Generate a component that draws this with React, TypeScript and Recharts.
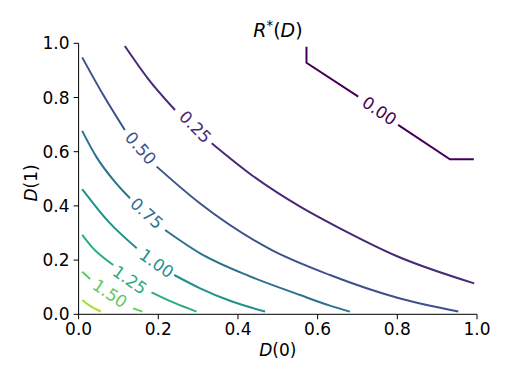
import React from 'react';
import { LineChart, Line, XAxis, YAxis, ReferenceDot } from 'recharts';

// contour paths, [D(0), D(1)]; a and b are the pieces either side of the inline label
const c000a = [[0.572, 0.987], [0.572, 0.928], [0.702, 0.803]];
const c000b = [[0.802, 0.699], [0.932, 0.572], [0.992, 0.572]];
const c025a = [[0.116, 0.99], [0.175, 0.868], [0.242, 0.754]];
const c025b = [[0.334, 0.631], [0.434, 0.514], [0.556, 0.397], [0.656, 0.317], [0.798, 0.215], [0.993, 0.114]];
const c050a = [[0.009, 0.948], [0.062, 0.809], [0.116, 0.68]];
const c050b = [[0.196, 0.545], [0.305, 0.409], [0.485, 0.237], [0.631, 0.145], [0.798, 0.062], [0.953, 0.01]];
const c075a = [[0.009, 0.677], [0.045, 0.58], [0.087, 0.496], [0.129, 0.428]];
const c075b = [[0.217, 0.311], [0.305, 0.225], [0.43, 0.14], [0.556, 0.071], [0.631, 0.032], [0.681, 0.01]];
const c100a = [[0.009, 0.462], [0.075, 0.342], [0.146, 0.244]];
const c100b = [[0.24, 0.145], [0.305, 0.096], [0.38, 0.05], [0.468, 0.01]];
const c125a = [[0.009, 0.293], [0.033, 0.249], [0.087, 0.182]];
const c125b = [[0.183, 0.081], [0.242, 0.041], [0.296, 0.01]];
const c150a = [[0.009, 0.157], [0.029, 0.13]];
const c150b = [[0.137, 0.022], [0.16, 0.01]];
const c175 = [[0.009, 0.053], [0.03, 0.03], [0.056, 0.01]];

const levelNames = ['0.00', '0.25', '0.50', '0.75', '1.00', '1.25', '1.50', '1.75'];
const levelColors = ['#440154', '#482878', '#3b528b', '#2c728e', '#21918c', '#28ae80', '#5ec962', '#aadc32'];
const levelPaths = [
  [c000a, c000b],
  [c025a, c025b],
  [c050a, c050b],
  [c075a, c075b],
  [c100a, c100b],
  [c125a, c125b],
  [c150a, c150b],
  [c175],
];

// inline label anchor points (data coords) and rotation in degrees
const labelX = [0.755, 0.293, 0.156, 0.171, 0.196, 0.129, 0.079];
const labelY = [0.751, 0.692, 0.613, 0.373, 0.188, 0.127, 0.077];
const labelAngle = [34, 45, 49, 42, 35, 35, 34];

const ticks = [0, 0.2, 0.4, 0.6, 0.8, 1.0];

const FONT = 'DejaVu Sans';

const toRows = (pts: number[][]) => pts.map(([x, y]) => ({ x, y }));

export default function App() {
  return (
    <div style={{ position: 'absolute', left: 0, top: 0, width: 512, height: 384, background: '#fff' }}>
      <LineChart width={512} height={384} margin={{ top: 43.3, right: 35, left: 18.6, bottom: 39.7 }}>
        <XAxis
          dataKey="x"
          type="number"
          domain={[0, 1]}
          ticks={ticks}
          tickFormatter={(v) => v.toFixed(1)}
          allowDataOverflow
          height={30}
          tickSize={5}
          tickMargin={4}
          stroke="#000"
          tick={{ fill: '#000', fontSize: 17, fontFamily: FONT }}
        />
        <XAxis xAxisId="top" orientation="top" type="number" domain={[0, 1]} height={0} tick={false} tickLine={false} stroke="#000" />
        <YAxis
          dataKey="y"
          type="number"
          domain={[0, 1]}
          ticks={ticks}
          tickFormatter={(v) => v.toFixed(1)}
          allowDataOverflow
          width={60}
          tickSize={5}
          tickMargin={4}
          stroke="#000"
          tick={{ fill: '#000', fontSize: 17, fontFamily: FONT }}
        />
        <YAxis yAxisId="right" orientation="right" type="number" domain={[0, 1]} width={0} tick={false} tickLine={false} stroke="#000" />
        {levelPaths.map((pieces, i) =>
          pieces.map((pts, j) => (
            <Line
              key={`${i}-${j}`}
              data={toRows(pts)}
              dataKey="y"
              type={i === 0 ? 'linear' : 'monotone'}
              stroke={levelColors[i]}
              strokeWidth={2}
              dot={false}
              activeDot={false}
              isAnimationActive={false}
              name={levelNames[i]}
            />
          ))
        )}
        {labelX.map((lx, i) => (
          <ReferenceDot
            key={`lbl-${i}`}
            x={lx}
            y={labelY[i]}
            r={0}
            shape={(p: any) => (
              <text
                x={p.cx}
                y={p.cy}
                fill={levelColors[i]}
                fontSize={16.7}
                fontFamily={FONT}
                textAnchor="middle"
                dominantBaseline="central"
                transform={`rotate(${labelAngle[i]}, ${p.cx}, ${p.cy})`}
              >
                {levelNames[i]}
              </text>
            )}
          />
        ))}
      </LineChart>
      <svg width={512} height={384} style={{ position: 'absolute', left: 0, top: 0, pointerEvents: 'none' }}>
        <text x={278} y={36.5} textAnchor="middle" fontFamily={FONT} fontSize={19} fill="#000">
          <tspan fontStyle="italic">R</tspan>
          <tspan fontSize={13.3} dy={-6.5}>*</tspan>
          <tspan dy={6.5}>(</tspan>
          <tspan fontStyle="italic">D</tspan>
          <tspan>)</tspan>
        </text>
        <text x={277.8} y={355.5} textAnchor="middle" fontFamily={FONT} fontSize={17} fill="#000">
          <tspan fontStyle="italic">D</tspan>
          <tspan>(0)</tspan>
        </text>
        <text x={36.5} y={183} textAnchor="middle" fontFamily={FONT} fontSize={17} fill="#000" transform="rotate(-90, 36.5, 183)">
          <tspan fontStyle="italic">D</tspan>
          <tspan>(1)</tspan>
        </text>
      </svg>
    </div>
  );
}
